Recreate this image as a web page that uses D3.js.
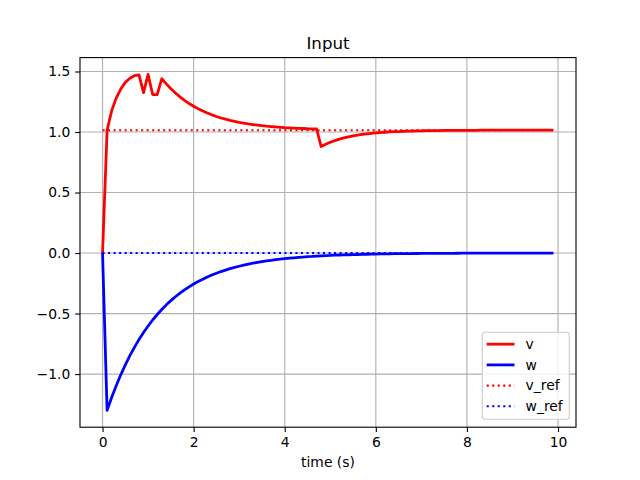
<!DOCTYPE html>
<html>
<head>
<meta charset="utf-8">
<script src="https://cdn.jsdelivr.net/npm/d3@7"></script>
<style>
  html, body { margin: 0; padding: 0; background: #fff; }
  svg { display: block; }
  text { font-family: "DejaVu Sans", sans-serif; }
</style>
</head>
<body>
<svg id="chart" width="640" height="480"></svg>
<script>
// ---- data ----
const chartTitle = "Input";
const xLabel = "time (s)";
const times = [
  0.0,0.1,0.2,0.3,0.4,0.5,0.6,0.7,0.8,0.9,
  1.0,1.1,1.2,1.3,1.4,1.5,1.6,1.7,1.8,1.9,
  2.0,2.1,2.2,2.3,2.4,2.5,2.6,2.7,2.8,2.9,
  3.0,3.1,3.2,3.3,3.4,3.5,3.6,3.7,3.8,3.9,
  4.0,4.1,4.2,4.3,4.4,4.5,4.6,4.7,4.8,4.9,
  5.0,5.1,5.2,5.3,5.4,5.5,5.6,5.7,5.8,5.9,
  6.0,6.1,6.2,6.3,6.4,6.5,6.6,6.7,6.8,6.9,
  7.0,7.1,7.2,7.3,7.4,7.5,7.6,7.7,7.8,7.9,
  8.0,8.1,8.2,8.3,8.4,8.5,8.6,8.7,8.8,8.9,
  9.0,9.1,9.2,9.3,9.4,9.5,9.6,9.7,9.8,9.9
];
const vValues = [
  0.000,1.015,1.175,1.280,1.355,1.410,1.445,1.465,1.472,1.325,
  1.476,1.310,1.308,1.440,1.398,1.358,1.322,1.290,1.261,1.235,
  1.213,1.192,1.173,1.157,1.142,1.128,1.116,1.106,1.096,1.088,
  1.080,1.073,1.067,1.062,1.057,1.052,1.048,1.045,1.042,1.039,
  1.036,1.034,1.032,1.030,1.029,1.027,1.026,1.025,0.880,0.899,
  0.915,0.929,0.941,0.951,0.960,0.968,0.974,0.980,0.985,0.989,
  0.993,0.996,0.998,1.001,1.003,1.004,1.006,1.007,1.008,1.009,
  1.010,1.011,1.011,1.012,1.012,1.013,1.013,1.013,1.014,1.014,
  1.014,1.014,1.014,1.015,1.015,1.015,1.015,1.015,1.015,1.015,
  1.015,1.015,1.015,1.015,1.015,1.015,1.015,1.015,1.015,1.015
];
const wValues = [
  0.000,-1.300,-1.194,-1.096,-1.006,-0.924,-0.848,-0.779,-0.715,-0.656,
  -0.603,-0.553,-0.508,-0.466,-0.428,-0.393,-0.361,-0.331,-0.304,-0.279,
  -0.256,-0.235,-0.216,-0.198,-0.182,-0.167,-0.153,-0.141,-0.129,-0.119,
  -0.109,-0.100,-0.092,-0.084,-0.077,-0.071,-0.065,-0.060,-0.055,-0.050,
  -0.046,-0.042,-0.039,-0.036,-0.033,-0.030,-0.028,-0.025,-0.023,-0.021,
  -0.020,-0.018,-0.016,-0.015,-0.014,-0.013,-0.012,-0.011,-0.010,-0.009,
  -0.008,-0.0075,-0.007,-0.006,-0.0055,-0.005,-0.0046,-0.0042,-0.0039,-0.0036,
  -0.0033,-0.003,-0.0028,-0.0025,-0.0023,-0.0021,-0.0019,-0.0018,-0.0016,-0.0015,
  -0.0014,-0.0013,-0.0012,-0.0011,-0.001,-0.0009,-0.0008,-0.0008,-0.0007,-0.0006,
  -0.0006,-0.0005,-0.0005,-0.0004,-0.0004,-0.0004,-0.0003,-0.0003,-0.0003,-0.0002
];
const vRefValue = 1.015;
const wRefValue = 0.0;
const seriesNames = ["v", "w", "v_ref", "w_ref"];
const xTicks = [0, 2, 4, 6, 8, 10];
const yTicks = [-1.0, -0.5, 0.0, 0.5, 1.0, 1.5];

// ---- layout ----
const W = 640, H = 480;
const L = 80, R = 576, T = 57.6, B = 427.2;
const svg = d3.select("#chart");

const xExt = d3.extent(times);
const xPad = (xExt[1] - xExt[0]) * 0.05;
const x = d3.scaleLinear().domain([xExt[0] - xPad, xExt[1] + xPad]).range([L, R]);

const allY = vValues.concat(wValues, [vRefValue, wRefValue]);
const yExt = d3.extent(allY);
const yPad = (yExt[1] - yExt[0]) * 0.05;
const y = d3.scaleLinear().domain([yExt[0] - yPad, yExt[1] + yPad]).range([B, T]);

const gridColor = "#b0b0b0";
const lw = 1.11;

// grid
svg.append("g").selectAll("line").data(xTicks).join("line")
  .attr("x1", d => x(d)).attr("x2", d => x(d))
  .attr("y1", T).attr("y2", B)
  .attr("stroke", gridColor).attr("stroke-width", lw);
svg.append("g").selectAll("line").data(yTicks).join("line")
  .attr("x1", L).attr("x2", R)
  .attr("y1", d => y(d)).attr("y2", d => y(d))
  .attr("stroke", gridColor).attr("stroke-width", lw);

// series
const data = times.map((t, i) => ({t, v: vValues[i], w: wValues[i]}));
const lineV = d3.line().x(d => x(d.t)).y(d => y(d.v));
const lineW = d3.line().x(d => x(d.t)).y(d => y(d.w));
const lineVRef = d3.line().x(d => x(d.t)).y(() => y(vRefValue));
const lineWRef = d3.line().x(d => x(d.t)).y(() => y(wRefValue));

const solidW = 2.78, dotW = 2.08;
const dotDash = `${1 * dotW},${1.65 * dotW}`;

svg.append("path").datum(data).attr("d", lineV)
  .attr("fill", "none").attr("stroke", "#ff0000").attr("stroke-width", solidW)
  .attr("stroke-linejoin", "round").attr("stroke-linecap", "butt");
svg.append("path").datum(data).attr("d", lineW)
  .attr("fill", "none").attr("stroke", "#0000ff").attr("stroke-width", solidW)
  .attr("stroke-linejoin", "round").attr("stroke-linecap", "butt");
svg.append("path").datum(data).attr("d", lineVRef)
  .attr("fill", "none").attr("stroke", "#ff0000").attr("stroke-width", dotW)
  .attr("stroke-dasharray", dotDash);
svg.append("path").datum(data).attr("d", lineWRef)
  .attr("fill", "none").attr("stroke", "#0000ff").attr("stroke-width", dotW)
  .attr("stroke-dasharray", dotDash);

// spines
svg.append("rect").attr("x", L).attr("y", T).attr("width", R - L).attr("height", B - T)
  .attr("fill", "none").attr("stroke", "#000").attr("stroke-width", lw);

// axes
const fs = 13.89;
const xAxis = d3.axisBottom(x).tickValues(xTicks).tickFormat(d3.format("d"))
  .tickSizeInner(4.86).tickSizeOuter(0).tickPadding(4.86);
const gx = svg.append("g").attr("transform", `translate(0,${B})`).call(xAxis);
const yAxis = d3.axisLeft(y).tickValues(yTicks).tickFormat(d3.format(".1f"))
  .tickSizeInner(4.86).tickSizeOuter(0).tickPadding(4.86);
const gy = svg.append("g").attr("transform", `translate(${L},0)`).call(yAxis);
[gx, gy].forEach(g => {
  g.select(".domain").remove();
  g.selectAll(".tick line").attr("stroke", "#000").attr("stroke-width", lw);
  g.selectAll(".tick text").attr("fill", "#000")
    .style("font-family", "DejaVu Sans").style("font-size", fs + "px");
});

// title & label
svg.append("text").attr("x", (L + R) / 2).attr("y", T - 8.3)
  .attr("text-anchor", "middle").style("font-size", "16.67px").attr("fill", "#000")
  .text(chartTitle);
svg.append("text").attr("x", (L + R) / 2).attr("y", 467)
  .attr("text-anchor", "middle").style("font-size", fs + "px").attr("fill", "#000")
  .text(xLabel);

// legend
const lg = svg.append("g");
const lx = 482.3, ly = 332.3, lwid = 87, lhei = 87;
lg.append("rect").attr("x", lx).attr("y", ly).attr("width", lwid).attr("height", lhei)
  .attr("rx", 2.8).attr("ry", 2.8)
  .attr("fill", "#fff").attr("fill-opacity", 0.8)
  .attr("stroke", "#cccccc").attr("stroke-width", lw);
const legendItems = [
  {name: seriesNames[0], color: "#ff0000", dash: null, width: solidW},
  {name: seriesNames[1], color: "#0000ff", dash: null, width: solidW},
  {name: seriesNames[2], color: "#ff0000", dash: dotDash, width: dotW},
  {name: seriesNames[3], color: "#0000ff", dash: dotDash, width: dotW}
];
const rowY = [344.2, 364.9, 385.6, 406.3];
legendItems.forEach((it, i) => {
  const yy = rowY[i];
  const ln = lg.append("line").attr("x1", 486.7).attr("x2", 514.5)
    .attr("y1", yy).attr("y2", yy)
    .attr("stroke", it.color).attr("stroke-width", it.width);
  if (it.dash) ln.attr("stroke-dasharray", it.dash);
  lg.append("text").attr("x", 525.6).attr("y", yy).attr("dy", "0.35em")
    .style("font-size", fs + "px").attr("fill", "#000").text(it.name);
});
</script>
</body>
</html>
